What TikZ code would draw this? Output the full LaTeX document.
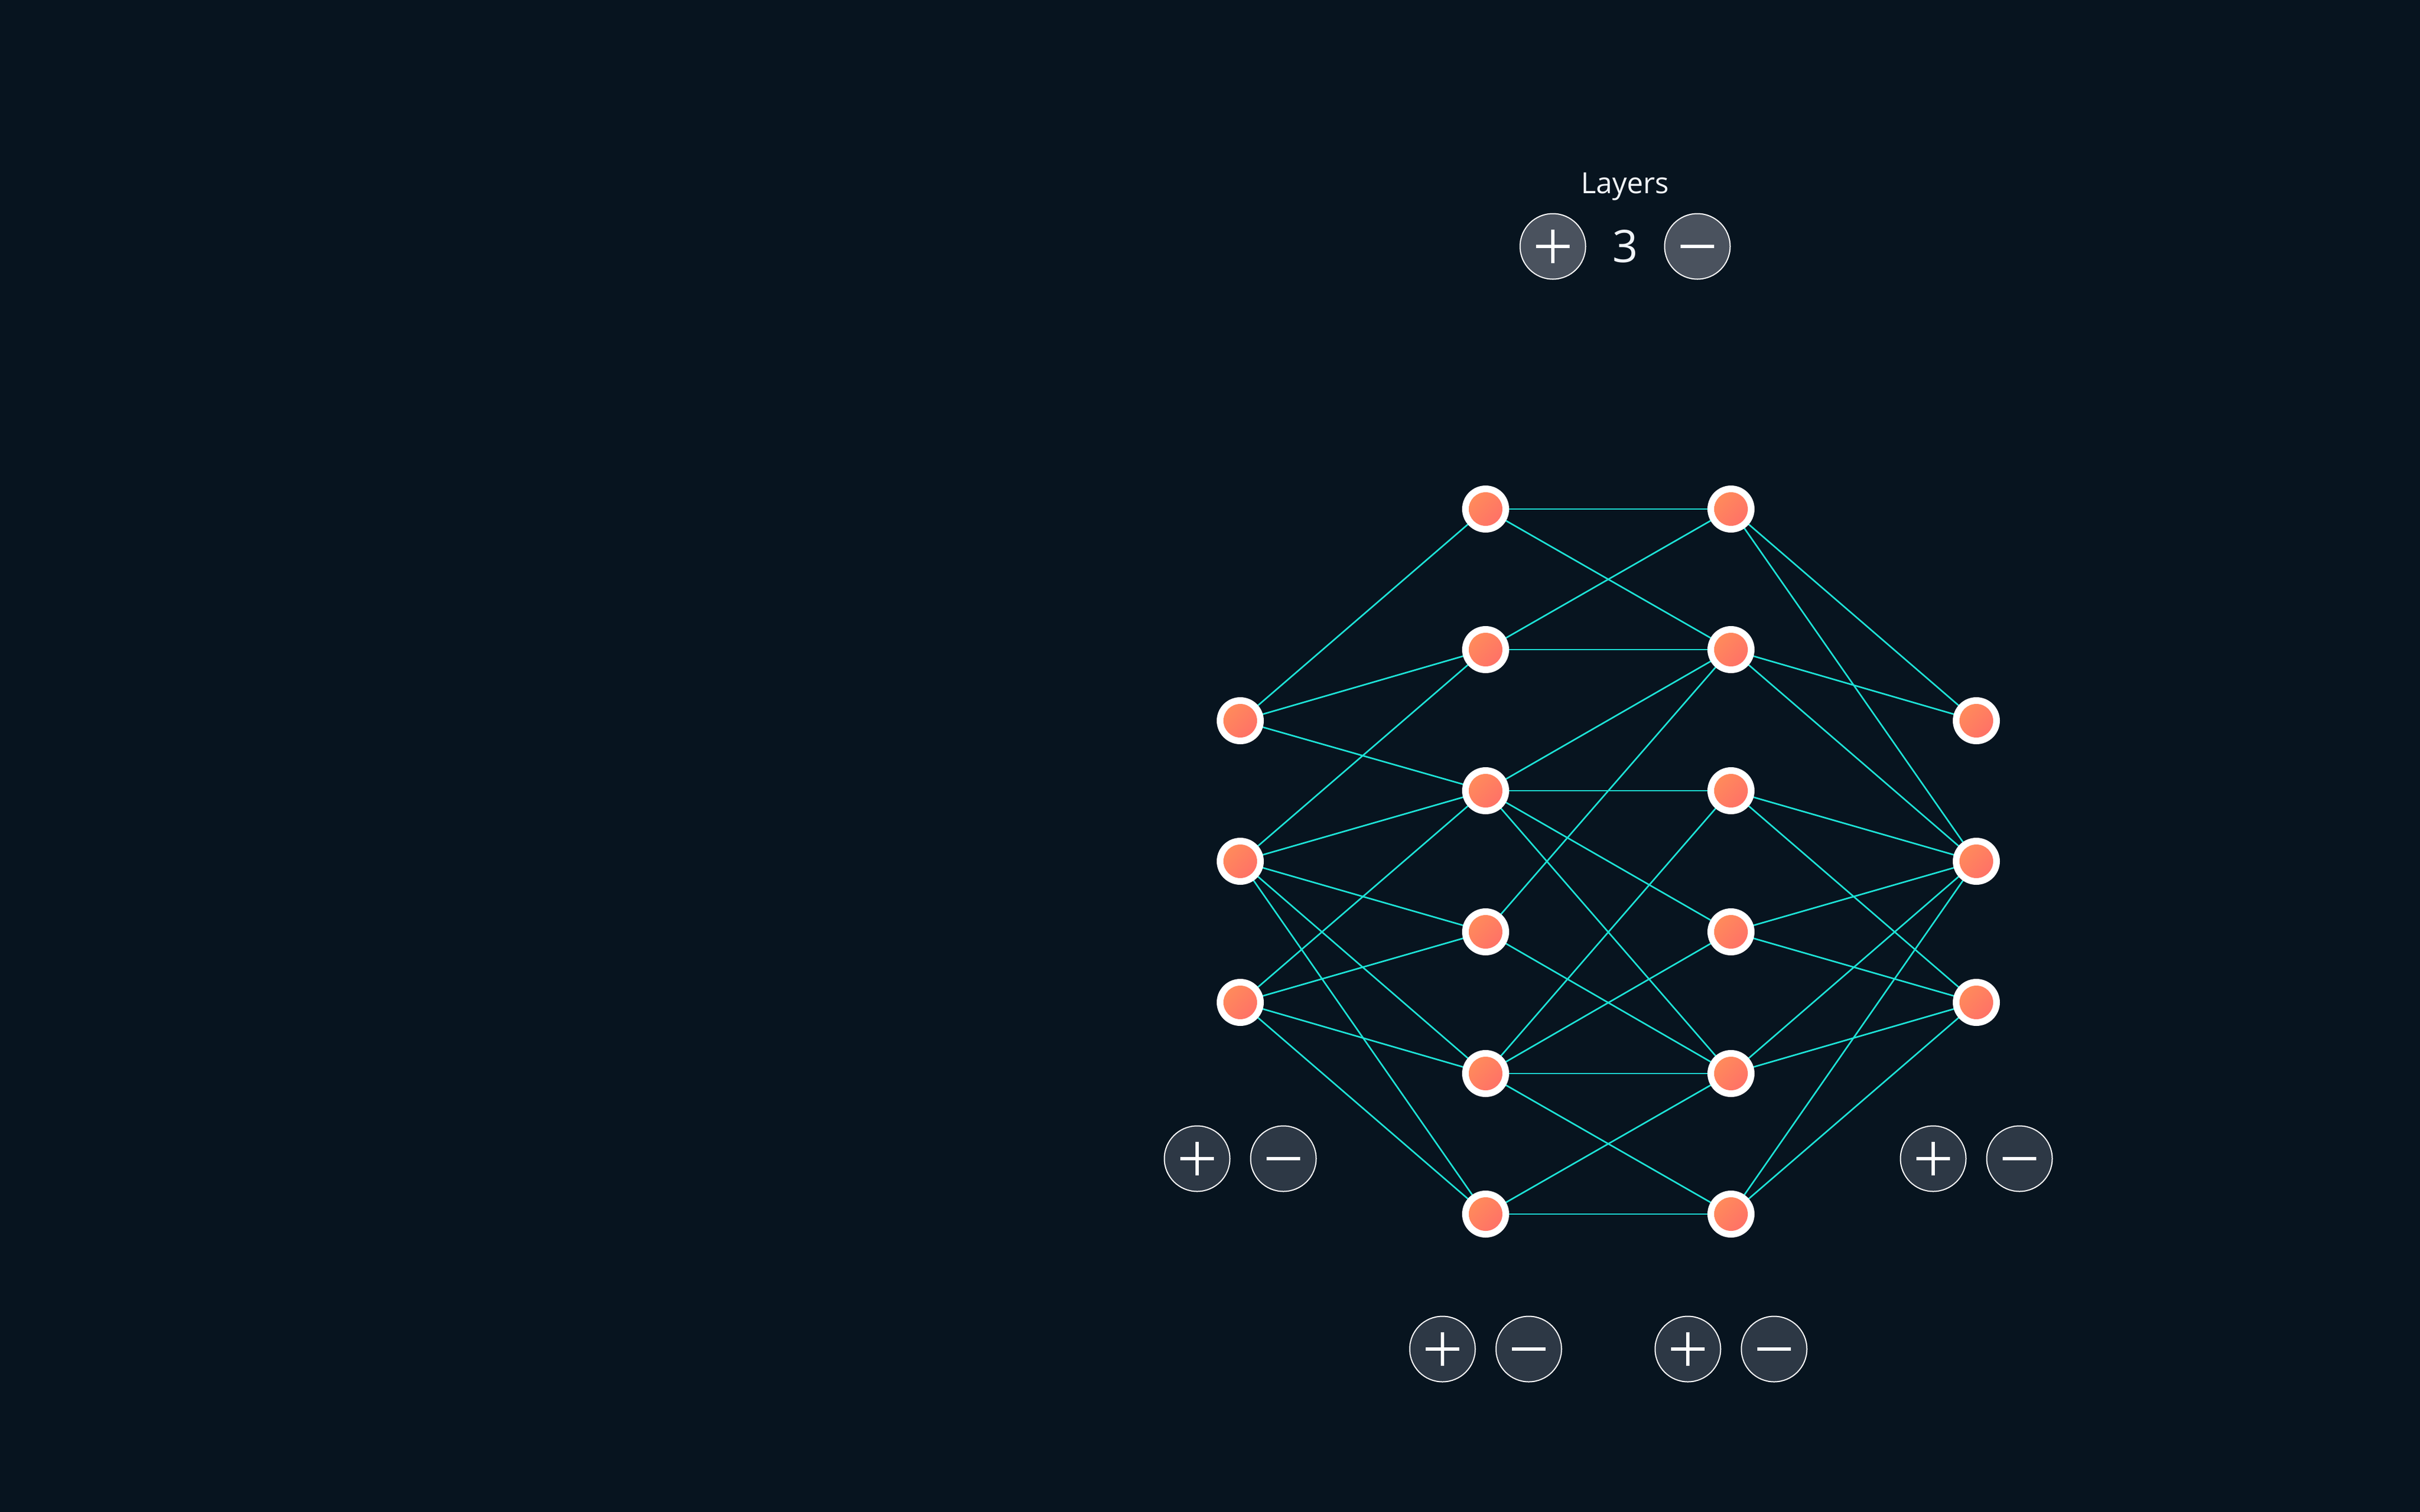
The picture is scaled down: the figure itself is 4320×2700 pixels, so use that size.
\documentclass[tikz,border=0pt]{standalone}
\usepackage{fontspec}
\setmainfont{Open Sans}
\usetikzlibrary{shadings}
\pgfdeclarelayer{bg}
\pgfdeclarelayer{edges}
\pgfsetlayers{bg,edges,main}
\definecolor{bgc}{RGB}{7,20,31}
\definecolor{edgec}{RGB}{29,226,214}
\definecolor{nodeA}{RGB}{255,150,86}
\definecolor{nodeB}{RGB}{255,102,108}
\definecolor{btnTop}{RGB}{74,82,94}
\definecolor{btnBot}{RGB}{45,56,69}
\definecolor{txt}{RGB}{240,244,248}
\begin{document}
\begin{tikzpicture}[x=0.25pt,y=-0.25pt,
  neuron/.style={circle, fill=white, minimum size=21pt, inner sep=0pt,
    path picture={\shade[upper left=nodeA, lower right=nodeB, upper right=nodeA!50!nodeB, lower left=nodeA!50!nodeB] (path picture bounding box.center) circle (7.5pt);}},
  link/.style={draw=edgec, line width=0.7pt},
  btn/.style={circle, draw=white, line width=0.5pt, minimum size=29.25pt, inner sep=0pt},
  plusbtn/.style={btn, path picture={
    \draw[white, line width=1.3pt] ([xshift=-7.5pt]path picture bounding box.center) -- ([xshift=7.5pt]path picture bounding box.center);
    \draw[white, line width=1.3pt] ([yshift=-7.5pt]path picture bounding box.center) -- ([yshift=7.5pt]path picture bounding box.center);}},
  minusbtn/.style={btn, path picture={
    \draw[white, line width=1.3pt] ([xshift=-7.5pt]path picture bounding box.center) -- ([xshift=7.5pt]path picture bounding box.center);}},
  label/.style={text=txt, inner sep=0pt, anchor=base}
]
\begin{pgfonlayer}{bg}
  \fill[bgc] (0,0) rectangle (4320,2700);
\end{pgfonlayer}
\useasboundingbox (0,0) rectangle (4320,2700);

% title controls
\node[label, font=\fontsize{13}{15}\selectfont] (title) at (2901,345) {Layers};
\node[plusbtn, fill=btnTop] (lplus) at (2772,440) {};
\node[label, font=\fontsize{20}{24}\selectfont] (lcount) at (2901,468) {3};
\node[minusbtn, fill=btnTop] (lminus) at (3030,440) {};

% neurons
\foreach \i/\y in {1/1287,2/1538,3/1790} {
  \node[neuron] (a\i) at (2214,\y) {};
  \node[neuron] (d\i) at (3528,\y) {};
}
\foreach \i/\y in {1/909,2/1160,3/1412,4/1664,5/1917,6/2168} {
  \node[neuron] (b\i) at (2652,\y) {};
  \node[neuron] (c\i) at (3090,\y) {};
}

% per-layer buttons
\node[plusbtn, fill=btnBot] (p0) at (2137,2069) {};
\node[minusbtn, fill=btnBot] (m0) at (2291,2069) {};
\node[plusbtn, fill=btnBot] (p3) at (3451,2069) {};
\node[minusbtn, fill=btnBot] (m3) at (3605,2069) {};
\node[plusbtn, fill=btnBot] (p1) at (2575,2409) {};
\node[minusbtn, fill=btnBot] (m1) at (2729,2409) {};
\node[plusbtn, fill=btnBot] (p2) at (3013,2409) {};
\node[minusbtn, fill=btnBot] (m2) at (3167,2409) {};

% connections
\begin{pgfonlayer}{edges}
\foreach \s/\t in {a1/b1,a1/b2,a1/b3,
  a2/b2,a2/b3,a2/b4,a2/b5,a2/b6,
  a3/b3,a3/b4,a3/b5,a3/b6,
  b1/c1,b1/c2,b2/c1,b2/c2,b3/c2,b3/c3,b3/c4,b3/c5,b4/c2,b4/c5,
  b5/c3,b5/c4,b5/c5,b5/c6,b6/c5,b6/c6,
  c1/d1,c1/d2,c2/d1,c2/d2,c3/d2,c3/d3,c4/d2,c4/d3,c5/d2,c5/d3,c6/d2,c6/d3}
  \draw[link] (\s.center) -- (\t.center);
\end{pgfonlayer}
\end{tikzpicture}
\end{document}
